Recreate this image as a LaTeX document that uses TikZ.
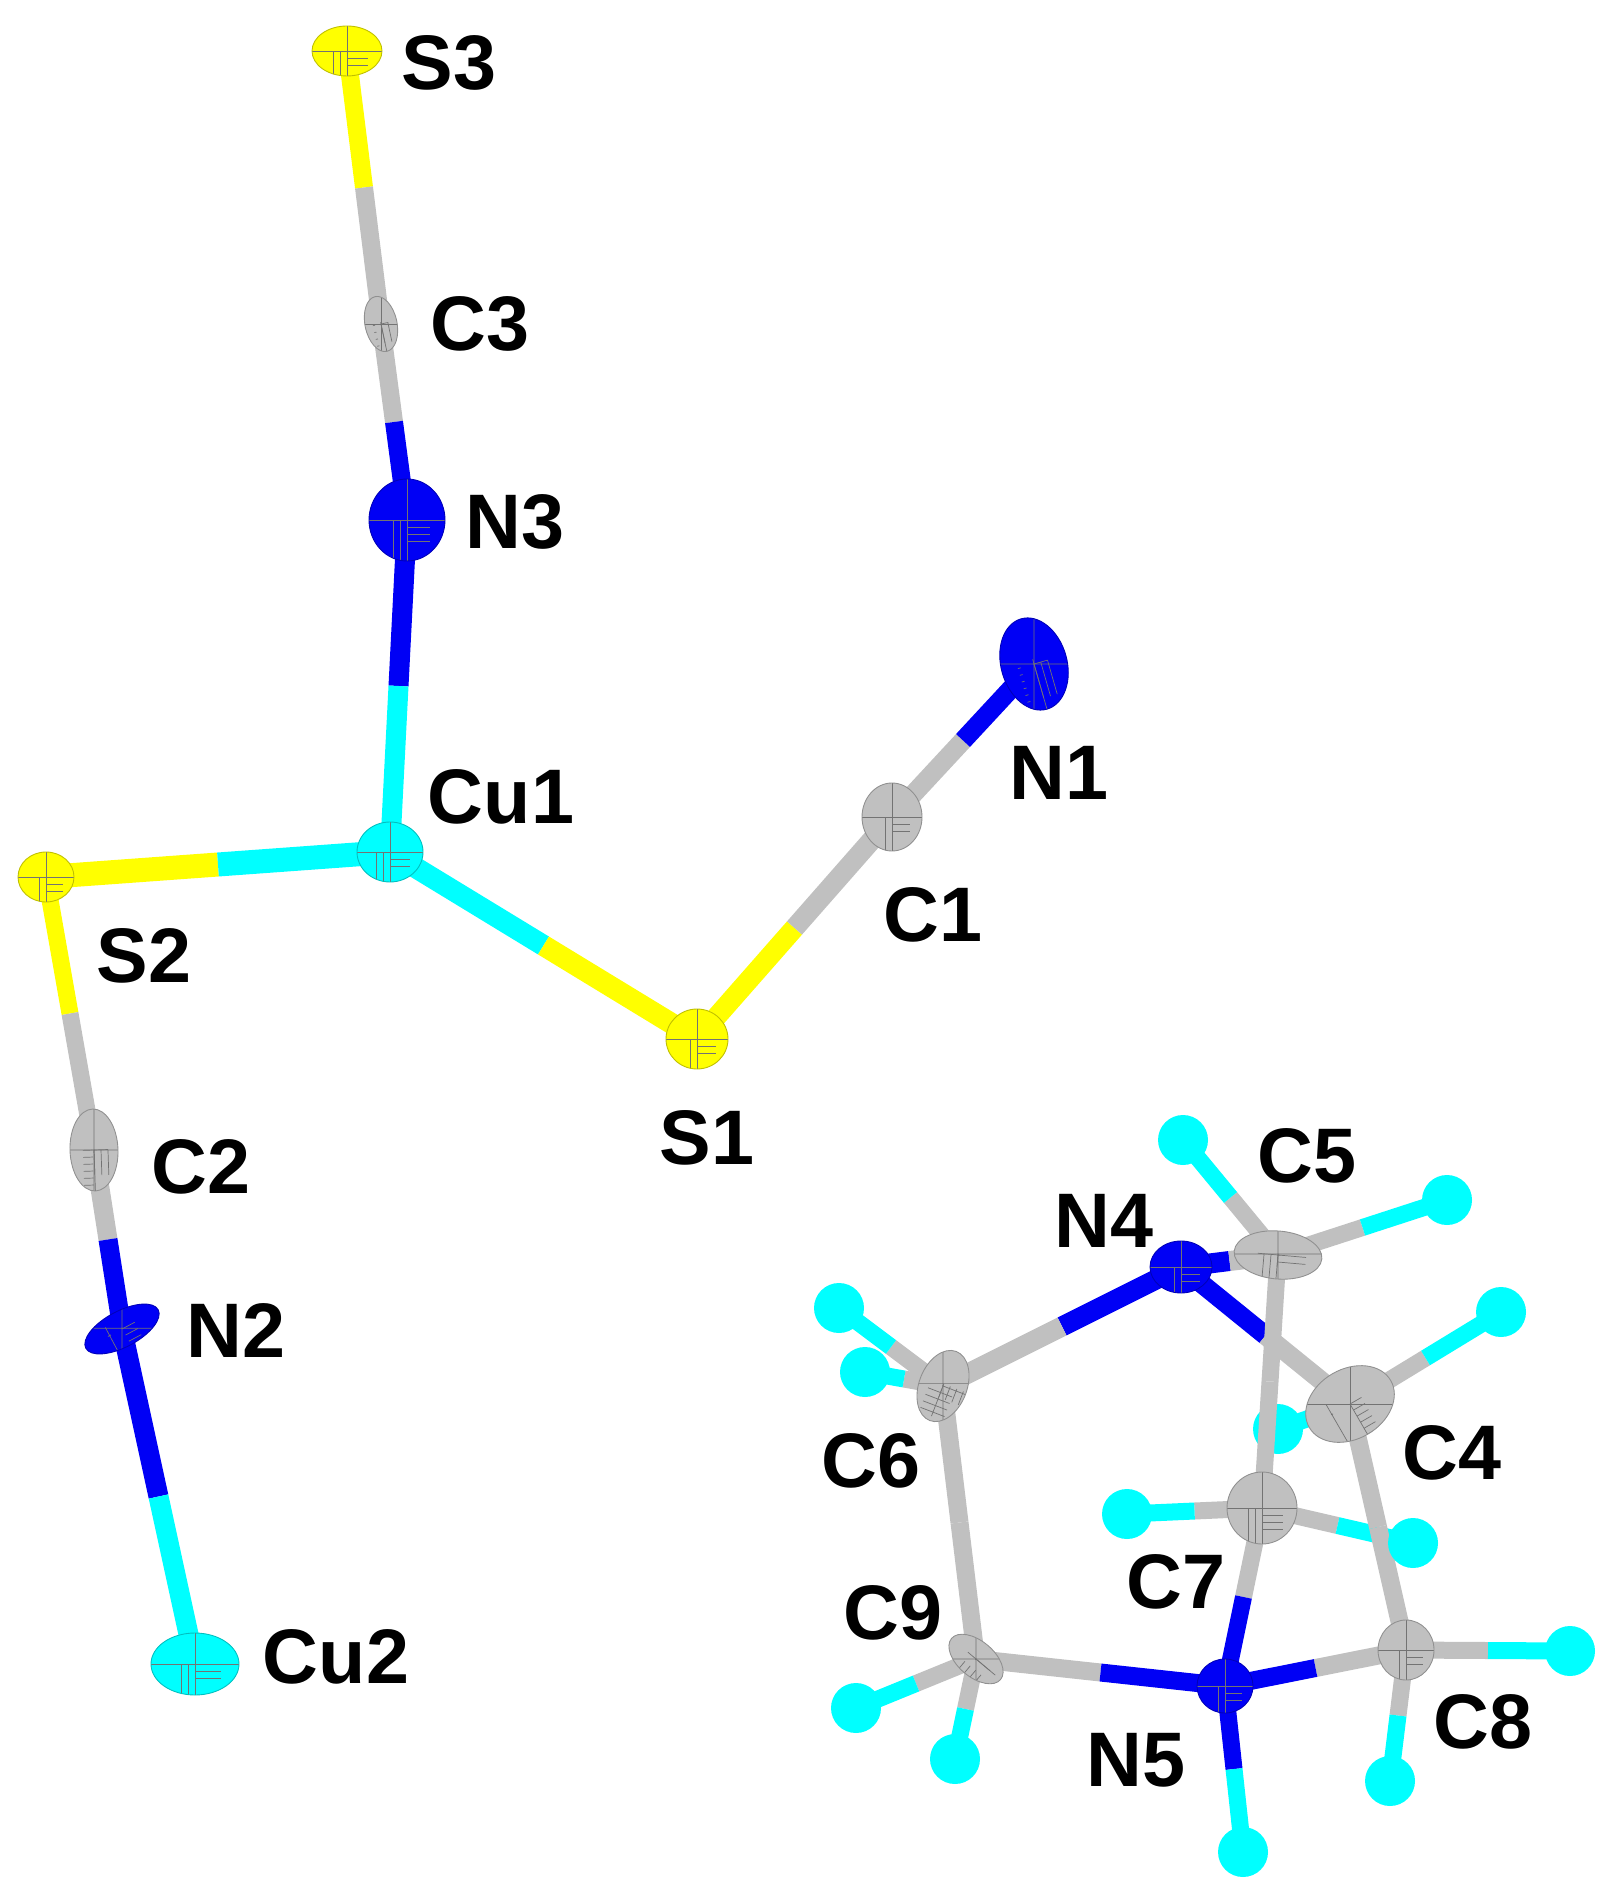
\documentclass[tikz,border=0pt]{standalone}
\usepackage{fontspec}
\setmainfont{Liberation Sans}
\usepackage{tikz}
\usetikzlibrary{positioning, calc, backgrounds, shapes.geometric}
\definecolor{atomgray}{RGB}{192,192,192}
\definecolor{atomblue}{RGB}{0,0,245}
\definecolor{atomyellow}{RGB}{255,255,0}
\definecolor{atomcyan}{RGB}{0,255,255}
\tikzset{
node distance=1cm, % label offset from its atom, before the shifts
octline/.style={draw=black!55, line width=.2pt},
octant/.style={path picture={
  \draw[octline] (path picture bounding box.west) -- (path picture bounding box.east)
    (path picture bounding box.north) -- (path picture bounding box.south);
  \draw[octline, xstep=.7mm, ystep=200mm] ($(path picture bounding box.center)!.45!(path picture bounding box.west)$) grid (path picture bounding box.south);
  \draw[octline, xstep=200mm, ystep=.7mm] (path picture bounding box.center) grid ($(path picture bounding box.center)!.6!(path picture bounding box.south east)$);
}},
atom/.style={ellipse, inner sep=0pt, fill=#1, draw=#1!75!black, line width=.25pt, octant},
hydrogen/.style={circle, inner sep=0pt, fill=atomcyan, minimum size=5mm},
atomlabel/.style={inner sep=0pt, font=\fontsize{22}{24}\selectfont\bfseries},
}
% one bond, half in the colour of each atom
\newcommand{\bond}[5][1.7]{
  \draw[#4, line width=#1mm] (#2.center) -- ($(#2)!.5!(#3)$);
  \draw[#5, line width=#1mm] ($(#2)!.5!(#3)$) -- (#3.center);
}

\begin{document}
\begin{tikzpicture}[x=.1mm, y=-.1mm]
      \useasboundingbox (0,0) rectangle (1607,1896);

      % thiocyanate chain
      \node[atom=atomyellow, minimum width=7mm, minimum height=5mm] (S3) at (347,51) {};
      \node[atom=atomgray, minimum width=5.6mm, minimum height=3.2mm, rotate=-78] (C3) at (381,324) {};
      \node[atom=atomblue, minimum width=7.6mm, minimum height=8.2mm] (N3) at (407,520) {};
      \node[atom=atomcyan, minimum width=6.6mm, minimum height=6mm] (Cu1) at (390,852) {};
      \node[atom=atomblue, minimum width=9.4mm, minimum height=6.6mm, rotate=-74] (N1) at (1034,664) {};
      \node[atom=atomgray, minimum width=6mm, minimum height=6.8mm] (C1) at (892,817) {};
      \node[atom=atomyellow, minimum width=6.2mm, minimum height=6mm] (S1) at (697,1039) {};
      \node[atom=atomyellow, minimum width=5.6mm, minimum height=5mm] (S2) at (46,877) {};
      \node[atom=atomgray, minimum width=8.2mm, minimum height=4.8mm, rotate=-88] (C2) at (94,1150) {};
      \node[atom=atomblue, minimum width=8.2mm, minimum height=3.6mm, rotate=28] (N2) at (122,1329) {};
      \node[atom=atomcyan, minimum width=8.8mm, minimum height=6.2mm] (Cu2) at (195,1664) {};

      % cage
      \node[atom=atomblue, minimum width=6.2mm, minimum height=5.2mm] (N4) at (1181,1267) {};
      \node[atom=atomgray, minimum width=8.8mm, minimum height=4.8mm, rotate=-5] (C5) at (1278,1255) {};
      \node[atom=atomgray, minimum width=7.4mm, minimum height=4.8mm, rotate=69] (C6) at (943,1386) {};
      \node[atom=atomgray, minimum width=9.4mm, minimum height=7mm, rotate=30] (C4) at (1350,1404) {};
      \node[atom=atomgray, minimum width=7mm, minimum height=7.2mm] (C7) at (1262,1508) {};
      \node[atom=atomgray, minimum width=5.6mm, minimum height=6mm] (C8) at (1406,1650) {};
      \node[atom=atomgray, minimum width=6.4mm, minimum height=3.6mm, rotate=-40] (C9) at (976,1659) {};
      \node[atom=atomblue, minimum width=5.6mm, minimum height=5.4mm] (N5) at (1225,1686) {};

      \node[hydrogen] (H5a) at (1183,1140) {};
      \node[hydrogen] (H5b) at (1447,1200) {};
      \node[hydrogen] (H6a) at (839,1308) {};
      \node[hydrogen] (H4a) at (1501,1312) {};
      \node[hydrogen] (H7a) at (1127,1514) {};
      \node[hydrogen] (H7b) at (1413,1543) {};
      \node[hydrogen] (H8a) at (1570,1651) {};
      \node[hydrogen] (H8b) at (1390,1781) {};
      \node[hydrogen] (H9a) at (856,1708) {};
      \node[hydrogen] (H9b) at (955,1759) {};
      \node[hydrogen] (H5n) at (1243,1852) {};

      \begin{scope}[on background layer]
      \node[hydrogen] (H6b) at (865,1372) {};
      \node[hydrogen] (H4b) at (1278,1429) {};

      \bond[1.8]{S3}{C3}{atomyellow}{atomgray}
      \bond[1.8]{C3}{N3}{atomgray}{atomblue}
      \bond[2]{N3}{Cu1}{atomblue}{atomcyan}
      \bond[2.4]{S2}{Cu1}{atomyellow}{atomcyan}
      \bond[2.1]{Cu1}{S1}{atomcyan}{atomyellow}
      \bond[2]{S1}{C1}{atomyellow}{atomgray}
      \bond[1.9]{C1}{N1}{atomgray}{atomblue}
      \bond[1.7]{S2}{C2}{atomyellow}{atomgray}
      \bond[1.9]{C2}{N2}{atomgray}{atomblue}
      \bond[2]{N2}{Cu2}{atomblue}{atomcyan}

      \bond{C6}{H6b}{atomgray}{atomcyan}
      \bond{C4}{H4b}{atomgray}{atomcyan}
      \bond{C6}{H6a}{atomgray}{atomcyan}
      \bond{C5}{H5a}{atomgray}{atomcyan}
      \bond{C5}{H5b}{atomgray}{atomcyan}
      \bond{C4}{H4a}{atomgray}{atomcyan}
      \bond{C7}{H7a}{atomgray}{atomcyan}
      \bond{C7}{H7b}{atomgray}{atomcyan}
      \bond{C8}{H8a}{atomgray}{atomcyan}
      \bond{C8}{H8b}{atomgray}{atomcyan}
      \bond{C9}{H9a}{atomgray}{atomcyan}
      \bond{C9}{H9b}{atomgray}{atomcyan}
      \bond{N5}{H5n}{atomblue}{atomcyan}

      \bond[2]{N4}{C6}{atomblue}{atomgray}
      \bond[1.9]{N4}{C4}{atomblue}{atomgray}
      \bond[2]{N4}{C5}{atomblue}{atomgray}
      \bond{C5}{C7}{atomgray}{atomgray}
      \bond[1.8]{C4}{C8}{atomgray}{atomgray}
      \bond[1.8]{C6}{C9}{atomgray}{atomgray}
      \bond{C7}{N5}{atomgray}{atomblue}
      \bond[1.8]{C8}{N5}{atomgray}{atomblue}
      \bond[1.8]{C9}{N5}{atomgray}{atomblue}
      \end{scope}

      % labels
      \node[atomlabel, right of=S3, xshift=.02cm, yshift=-.12cm] (labelS3) {S3};
      \node[atomlabel, right of=C3, xshift=-.01cm] (labelC3) {C3};
      \node[atomlabel, right of=N3, xshift=.08cm, yshift=-.02cm] (labelN3) {N3};
      \node[atomlabel, right of=Cu1, xshift=.11cm, yshift=.55cm] (labelCu1) {Cu1};
      \node[atomlabel, below of=N1, xshift=.25cm, yshift=-.09cm] (labelN1) {N1};
      \node[atomlabel, below of=C1, xshift=.41cm, yshift=.02cm] (labelC1) {C1};
      \node[atomlabel, below of=S1, xshift=.10cm, yshift=.01cm] (labelS1) {S1};
      \node[atomlabel, right of=S2, xshift=-.02cm, yshift=-.79cm] (labelS2) {S2};
      \node[atomlabel, right of=C2, xshift=.07cm, yshift=-.17cm] (labelC2) {C2};
      \node[atomlabel, right of=N2, xshift=.14cm, yshift=-.01cm] (labelN2) {N2};
      \node[atomlabel, right of=Cu2, xshift=.41cm, yshift=.07cm] (labelCu2) {Cu2};
      \node[atomlabel, above of=C5, xshift=.29cm, yshift=-.01cm] (labelC5) {C5};
      \node[atomlabel, left of=N4, xshift=.23cm, yshift=.46cm] (labelN4) {N4};
      \node[atomlabel, below of=C6, xshift=-.72cm, yshift=.25cm] (labelC6) {C6};
      \node[atomlabel, right of=C4, xshift=.02cm, yshift=-.49cm] (labelC4) {C4};
      \node[atomlabel, below of=C7, xshift=-.86cm, yshift=.26cm] (labelC7) {C7};
      \node[atomlabel, left of=C9, xshift=.17cm, yshift=.46cm] (labelC9) {C9};
      \node[atomlabel, below of=C8, xshift=.77cm, yshift=.28cm] (labelC8) {C8};
      \node[atomlabel, below of=N5, xshift=-.89cm, yshift=.26cm] (labelN5) {N5};
    \end{tikzpicture}
\end{document}
